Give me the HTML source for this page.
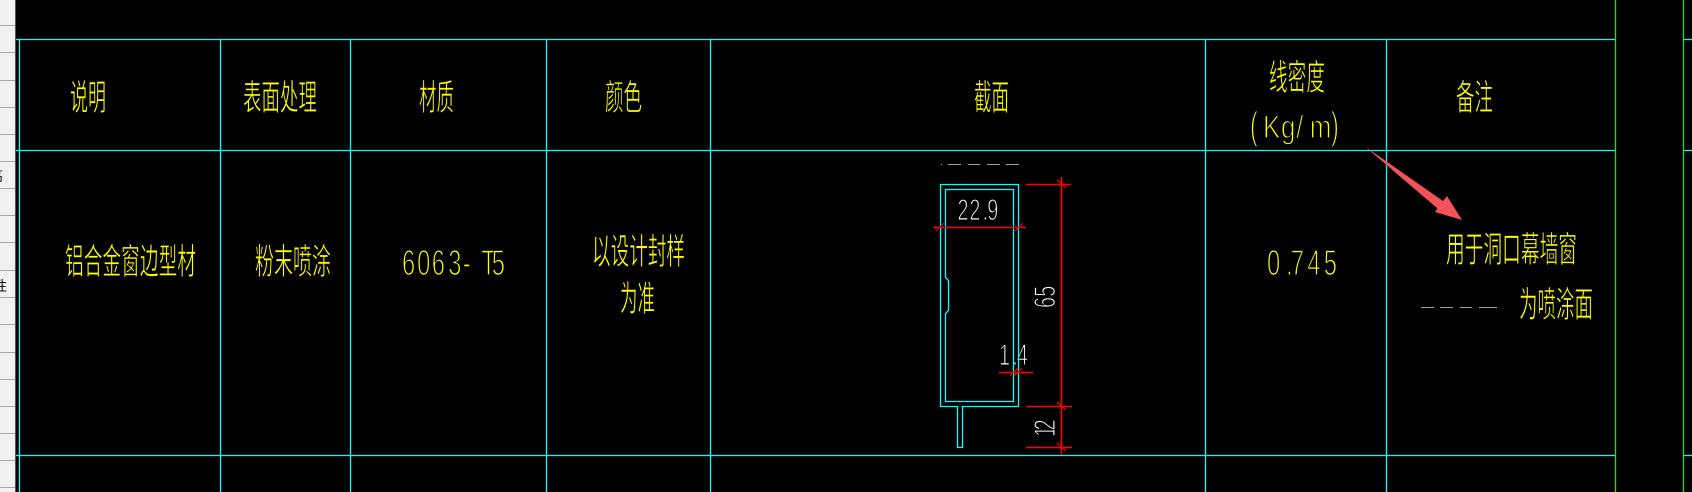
<!DOCTYPE html>
<html><head><meta charset="utf-8"><style>
html,body{margin:0;padding:0;background:#000;width:1692px;height:492px;overflow:hidden}
svg{display:block}
.c text{font-family:"Liberation Sans","WenQuanYi Zen Hei","Noto Sans CJK SC",sans-serif;font-size:36px;fill:#ff0;stroke:#000;stroke-width:.7px;text-rendering:geometricPrecision}
.n text{font-family:"Liberation Sans",sans-serif;font-size:36px;fill:#ff0;stroke:#000;stroke-width:1.3px;text-rendering:geometricPrecision}
.w text{font-family:"Liberation Sans",sans-serif;font-size:30px;fill:#fff;stroke:#000;stroke-width:1.1px;text-rendering:geometricPrecision}
</style></head><body>
<svg xmlns="http://www.w3.org/2000/svg" width="1692" height="492" viewBox="0 0 1692 492">
<rect width="1692" height="492" fill="#000"/>
<rect width="15" height="492" fill="#f0f0f0"/>
<rect x="15" width="1" height="492" fill="#555"/>
<g stroke="#a8a8a8" stroke-width="1" shape-rendering="crispEdges">
<path d="M0 25.5H15M0 52.5H15M0 80.5H15M0 107.5H15M0 134.5H15M0 161.5H15M0 188.5H15M0 215.5H15M0 242.5H15M0 270.5H15M0 297.5H15M0 324.5H15M0 352.5H15M0 379.5H15M0 406.5H15M0 433.5H15M0 460.5H15M0 487.5H15"/>
</g>
<text x="-11" y="181" font-family="'Noto Sans CJK SC',sans-serif" font-size="14" fill="#111">高</text>
<text x="-7" y="291" font-family="'Noto Sans CJK SC',sans-serif" font-size="14" fill="#111">性</text>

<g stroke="#0ff" stroke-width="1.3" fill="none">
<path d="M16 39.5H1615M16 150.5H1615M16 455.5H1615M1684 39.5H1692M1684 150.5H1692M1684 455.5H1692"/>
<path d="M19.5 39V492M220.5 39V492M350.5 39V492M546.5 39V492M710.5 39V492M1205.5 39V492M1386.5 39V492"/>
</g>
<path d="M1615.5 0V492M1683.5 0V492" stroke="#1fe01f" stroke-width="1.3" fill="none"/>

<!-- gray dashes -->
<path d="M941 164.5H942M948 164.5H961M968 164.5H980M987 164.5H1000M1006 164.5H1019M1421 307.5H1434M1440 307.5H1453M1460 307.5H1472M1479 307.5H1497" stroke="#a0a0a0" fill="none" shape-rendering="crispEdges"/>

<!-- white dim text -->
<g class="w">
<text transform="translate(957.5 220) scale(.66 1)" x="0 18 38 45" y="0">22.9</text>
<text transform="translate(999 365) scale(.66 1)" x="0 20 27" y="0">1.4</text>
<text transform="translate(1055 308) rotate(-90) scale(.66 1)" x="0 17" y="0">65</text>
<text transform="translate(1055 437) rotate(-90) scale(.66 1)" x="0 10" y="0">12</text>
</g>

<!-- section -->
<g stroke="#0ff" fill="none" stroke-width="1.3">
<path d="M957.5 406.5H940.5V184.5H1018.5V406.5H962.5V447.5H957.5Z"/>
<path d="M945.5 277.5V189.5H1013.5V401.5H945.5V313.5L948.5 310.5V280.5Z"/>
</g>

<!-- dims -->
<g stroke="#f00" fill="none" stroke-width="1.6">
<path d="M1061.5 177V455M1026 184.5H1071M1026 406.5H1072M1026 447.5H1072M933 227.5H1026M999 372.5H1033"/>
</g>
<g stroke="#e00" fill="none" stroke-width="1.2">
<path d="M1057 180L1066 188M1057 402L1066 410M1057 443L1066 451M936 231L944 223M1015 231L1023 223M1010 376L1018 368M1014 376L1022 368"/>
</g>

<!-- CJK text -->
<g class="c">
<text x="70" y="110" textLength="36" lengthAdjust="spacingAndGlyphs">说明</text>
<text x="243" y="110" textLength="74" lengthAdjust="spacingAndGlyphs">表面处理</text>
<text x="419" y="110" textLength="35" lengthAdjust="spacingAndGlyphs">材质</text>
<text x="605" y="110" textLength="37" lengthAdjust="spacingAndGlyphs">颜色</text>
<text x="974" y="110" textLength="35" lengthAdjust="spacingAndGlyphs">截面</text>
<text x="1269" y="90" textLength="56" lengthAdjust="spacingAndGlyphs">线密度</text>
<text x="1456" y="110" textLength="37" lengthAdjust="spacingAndGlyphs">备注</text>
<text x="65" y="274" textLength="131" lengthAdjust="spacingAndGlyphs">铝合金窗边型材</text>
<text x="255" y="274" textLength="76" lengthAdjust="spacingAndGlyphs">粉末喷涂</text>
<text x="592" y="264" textLength="93" lengthAdjust="spacingAndGlyphs">以设计封样</text>
<text x="620" y="311" textLength="35" lengthAdjust="spacingAndGlyphs">为准</text>
<text x="1446" y="262" textLength="131" lengthAdjust="spacingAndGlyphs">用于洞口幕墙窗</text>
<text x="1519" y="317" textLength="74" lengthAdjust="spacingAndGlyphs">为喷涂面</text>
</g>
<g class="n">
<text transform="translate(402 275) scale(.66 1)" x="0 23 45 70 92 120 136" y="0">6063-T5</text>
<text transform="translate(1267 275) scale(.66 1)" x="0 29 36 61 86" y="0">0.745</text>
<text transform="translate(1263 138) scale(.72 .9)" x="0 25 46 65" y="0">Kg/m</text>
<text transform="translate(1250 139) scale(.6 1)" x="0" y="0" style="font-size:39px">(</text>
<text transform="translate(1331 139) scale(.6 1)" x="0" y="0" style="font-size:39px">)</text>
</g>

<!-- arrow -->
<polygon points="1365,146.5 1443,201 1447,196 1462,220 1435,212 1437.5,208.5" fill="#f4525a"/>
</svg>
</body></html>
